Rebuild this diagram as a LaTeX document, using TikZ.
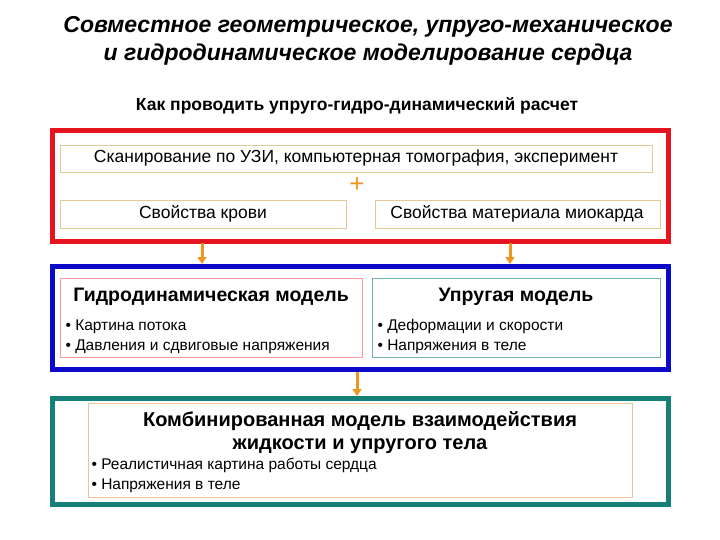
\documentclass[tikz,border=0pt]{standalone}
\usepackage{fontspec}
\setmainfont{Liberation Sans}
\usetikzlibrary{arrows.meta}
\definecolor{myred}{RGB}{230,20,30}
\definecolor{myblue}{RGB}{10,10,200}
\definecolor{myteal}{RGB}{20,128,120}
\definecolor{myorange}{RGB}{240,150,30}
\definecolor{cream}{RGB}{230,200,150}
\tikzset{
 outer/.style={draw, line width=5pt},
 inner/.style={draw=cream, line width=0.8pt, fill=white},
 arr/.style={-{Triangle[length=7pt,width=9pt]}, draw=myorange, fill=myorange, line width=3pt},
 txt/.style={font=\fontsize{17.5}{19}\selectfont},
 bul/.style={font=\fontsize{15.5}{20}\selectfont, align=left, anchor=north west},
 hd/.style={font=\bfseries\fontsize{19.5}{21}\selectfont},
}
\begin{document}
\begin{tikzpicture}[x=1pt,y=-1pt]
\useasboundingbox (0,0) rectangle (720,540);
\node[font=\bfseries\itshape\fontsize{23}{28}\selectfont, align=center] (title) at (368,41) {Совместное геометрическое, упруго-механическое\\и гидродинамическое моделирование сердца};
\node[font=\bfseries\fontsize{17.5}{19}\selectfont] (sub) at (357,106) {Как проводить упруго-гидро-динамический расчет};
% red
\draw[outer, draw=myred] (52,131) rectangle (668,241);
\draw[inner] (60,145) rectangle (652,172);
\node[txt] (scan) at (356,158) {Сканирование по УЗИ, компьютерная томография, эксперимент};
\node[font=\fontsize{26}{26}\selectfont, text=myorange] (plus) at (357,185) {+};
\draw[inner] (60,200) rectangle (346,228);
\node[txt] (blood) at (203,214) {Свойства крови};
\draw[inner] (375,200) rectangle (660,228);
\node[txt] (myo) at (517,214) {Свойства материала миокарда};
\coordinate (a1s) at (202,243); \coordinate (a1e) at (202,264);
\coordinate (a2s) at (510,243); \coordinate (a2e) at (510,264);
\draw[arr] (a1s) -- (a1e);
\draw[arr] (a2s) -- (a2e);
% blue
\draw[outer, draw=myblue] (52,266) rectangle (668,369);
\draw[draw=red!40, line width=0.8pt, fill=white] (60,278) rectangle (362,357);
\node[hd] (hyd) at (211,297) {Гидродинамическая модель};
\node[bul] (hb) at (62,316) {• Картина потока\\• Давления и сдвиговые напряжения};
\draw[draw=myteal!60, line width=0.8pt, fill=white] (372,278) rectangle (660,357);
\node[hd] (ela) at (516,297) {Упругая модель};
\node[bul] (eb) at (374,316) {• Деформации и скорости\\• Напряжения в теле};
\coordinate (a3s) at (357,372); \coordinate (a3e) at (357,396);
\draw[arr] (a3s) -- (a3e);
% teal
\draw[outer, draw=myteal] (52,398) rectangle (668,504);
\draw[inner] (88,403) rectangle (632,497);
\node[font=\bfseries\fontsize{20}{23}\selectfont, align=center] (comb) at (360,433) {Комбинированная модель взаимодействия\\жидкости и упругого тела};
\node[bul] (cb) at (88,455) {• Реалистичная картина работы сердца\\• Напряжения в теле};
\end{tikzpicture}
\end{document}
